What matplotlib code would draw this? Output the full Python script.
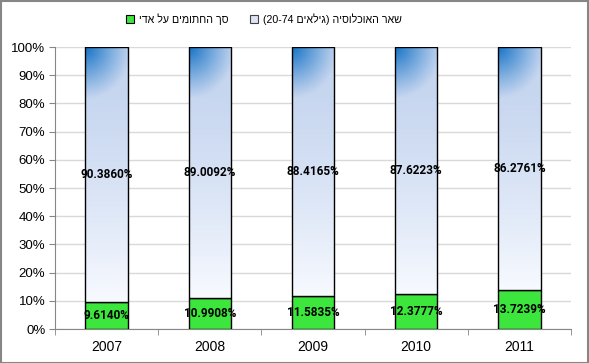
import matplotlib
matplotlib.use('Agg')
import matplotlib.pyplot as plt
import numpy as np
from matplotlib.patches import Patch, Rectangle
from matplotlib.ticker import MultipleLocator, PercentFormatter

years = ['2007', '2008', '2009', '2010', '2011']
signed = [9.6140, 10.9908, 11.5835, 12.3777, 13.7239]
rest = [90.3860, 89.0092, 88.4165, 87.6223, 86.2761]
# legend labels, written in visual (left-to-right) order because matplotlib has no bidi
label_signed = 'ידא לע םימותחה ךס'
label_rest = '(20-74 םיאליג) היסולכואה ראש'

plt.rcParams['font.family'] = ['Liberation Sans', 'DejaVu Sans']

fig = plt.figure(figsize=(5.89, 3.63), dpi=100)
ax = fig.add_axes([55 / 589, 1 - 329 / 363, 516 / 589, 282 / 363])

x = np.arange(len(years))
w = 0.41
green = '#3ce63c'

ax.bar(x, signed, w, color=green, edgecolor='black', linewidth=1, zorder=3)
tops = ax.bar(x, rest, w, bottom=signed, color='none', edgecolor='black', linewidth=1, zorder=4)

# gradient fill for the upper segments: light blue fading to white, blue glow in top-left corner
light = np.array([0.78, 0.84, 0.94])
white = np.array([0.97, 0.98, 1.0])
blue = np.array([0.08, 0.45, 0.78])
for i, bar in enumerate(tops):
    x0, y0 = bar.get_x(), bar.get_y()
    bw, bh = bar.get_width(), bar.get_height()
    px_w = 42
    px_h = bh / 100 * 282
    nx, ny = 60, 200
    u = np.linspace(0, 1, nx)
    v = np.linspace(0, 1, ny)  # 0 at top
    U, V = np.meshgrid(u, v)
    t = np.clip((V * px_h - 40) / (px_h - 40), 0, 1) ** 1.3
    base = light[None, None, :] * (1 - t[..., None]) + white[None, None, :] * t[..., None]
    d = np.sqrt((U * px_w * 0.9) ** 2 + (V * px_h * 0.8) ** 2)
    g = np.clip(1 - d / 42, 0, 1) ** 1.1
    img = base * (1 - g[..., None]) + blue[None, None, :] * g[..., None]
    im = ax.imshow(img, extent=[x0, x0 + bw, y0, y0 + bh], origin='upper',
                   aspect='auto', zorder=3, interpolation='bilinear')
    im.set_clip_path(Rectangle((x0, y0), bw, bh, transform=ax.transData))

for i in range(len(years)):
    ax.text(x[i], signed[i] / 2, '%.4f%%' % signed[i], ha='center', va='center',
            fontsize=8.5, fontweight='bold', family='Roboto', zorder=5)
    ax.text(x[i], signed[i] + rest[i] / 2, '%.4f%%' % rest[i], ha='center', va='center',
            fontsize=8.5, fontweight='bold', family='Roboto', zorder=5)

ax.set_xlim(-0.5, len(years) - 0.5)
ax.set_ylim(0, 100)
ax.yaxis.set_major_locator(MultipleLocator(10))
ax.yaxis.set_major_formatter(PercentFormatter(decimals=0))
ax.set_xticks(x)
ax.set_xticklabels(years, fontsize=10)
ax.set_xticks(np.arange(-0.5, len(years)), minor=True)
ax.tick_params(axis='x', which='major', length=0, pad=8)
ax.tick_params(axis='x', which='minor', length=4, color='#868686')
ax.tick_params(axis='y', length=4, color='#868686', labelsize=9.5, pad=3)
ax.grid(axis='y', color='#d9d9d9', linewidth=1, zorder=0)
ax.set_axisbelow(True)
for s in ['top', 'right']:
    ax.spines[s].set_visible(False)
for s in ['left', 'bottom']:
    ax.spines[s].set_color('#868686')

handles = [Patch(facecolor=green, edgecolor='black', linewidth=0.8),
           Patch(facecolor='#dde4f3', edgecolor='#404040', linewidth=0.8)]
fig.legend(handles, [label_signed, label_rest], loc='center', ncol=2,
           bbox_to_anchor=(264 / 589, 1 - 19 / 363), frameon=False, fontsize=7.7,
           handlelength=0.75, handleheight=0.75, handletextpad=0.47, columnspacing=2.0)

fig.patches.append(Rectangle((0.5 / 589, 0.5 / 363), 1 - 1.5 / 589, 1 - 1.5 / 363,
                             transform=fig.transFigure, fill=False,
                             edgecolor='#868686', linewidth=1.5))

fig.savefig('out.png', dpi=100)
